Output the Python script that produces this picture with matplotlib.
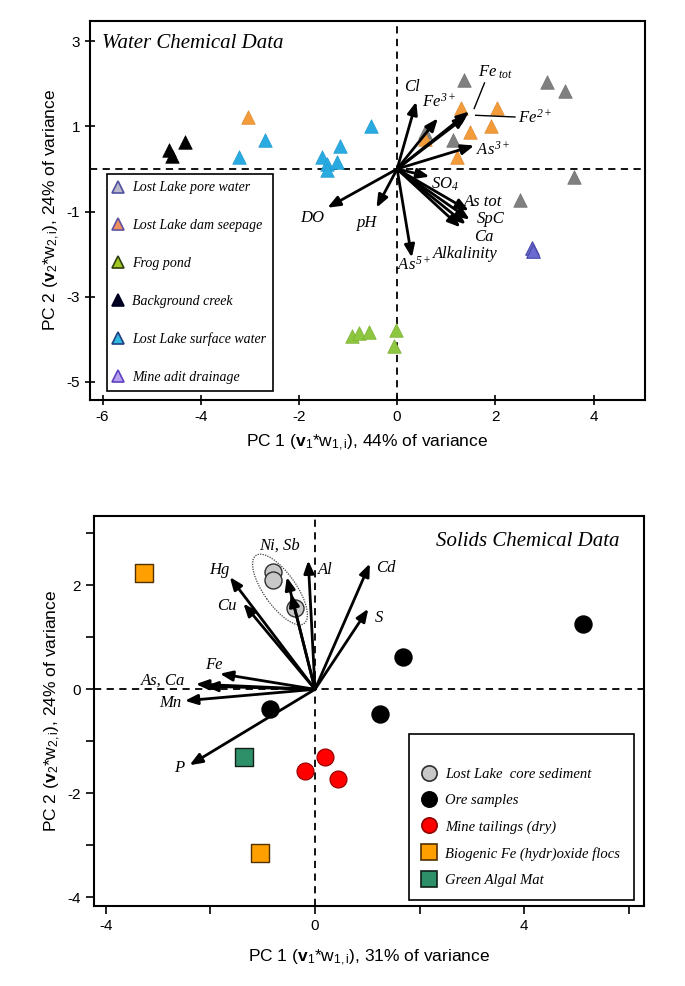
import matplotlib
matplotlib.use('Agg')
import matplotlib.pyplot as plt
from matplotlib.lines import Line2D
from matplotlib.patches import Ellipse

plt.rcParams['font.family'] = ['Liberation Sans', 'DejaVu Sans']
plt.rcParams['axes.unicode_minus'] = False
plt.rcParams['mathtext.fontset'] = 'custom'
plt.rcParams['mathtext.rm'] = 'Liberation Serif:italic'
plt.rcParams['mathtext.it'] = 'Liberation Serif:italic'
plt.rcParams['mathtext.sf'] = 'Liberation Sans'
plt.rcParams['mathtext.bf'] = 'Liberation Sans:bold'

# ---------------- Water chemical data (scores) ----------------
pore_x = [1.37, 3.05, 3.42, 0.56, 1.14, 3.60, 2.50]
pore_y = [2.08, 2.05, 1.84, 0.87, 0.67, -0.20, -0.73]
seep_x = [-3.03, 1.31, 2.03, 1.92, 1.48, 0.57, 1.22]
seep_y = [1.22, 1.44, 1.43, 1.02, 0.87, 0.70, 0.27]
frog_x = [-0.91, -0.77, -0.57, -0.02, -0.06]
frog_y = [-3.93, -3.86, -3.82, -3.79, -4.15]
creek_x = [-4.65, -4.58, -4.32]
creek_y = [0.44, 0.30, 0.63]
surf_x = [-3.23, -2.69, -0.53, -1.16, -1.52, -1.42, -1.42, -1.23]
surf_y = [0.28, 0.69, 1.01, 0.54, 0.29, 0.12, -0.02, 0.17]
adit_x = [2.75, 2.77]
adit_y = [-1.85, -1.92]

# Water loadings
water_vars = ["Cl", "Fe3+", "Fe tot", "Fe2+", "As3+", "SO4", "As tot", "SpC",
              "Ca", "Alkalinity", "As5+", "pH", "DO"]
water_pc1 = [0.39, 0.83, 1.47, 1.42, 1.57, 0.66, 1.46, 1.48, 1.40, 1.29, 0.30, -0.42, -1.42]
water_pc2 = [1.58, 1.19, 1.35, 1.25, 0.55, -0.18, -0.98, -1.19, -1.30, -1.37, -2.08, -0.91, -0.91]
water_labels = ["Cl", r"$Fe^{3+}$", r"$Fe_{\ tot}$", r"$Fe^{2+}$",
                r"$As^{3+}$", r"$SO_{4}$", "As tot", "SpC", "Ca",
                "Alkalinity", r"$As^{5+}$", "pH", "DO"]
water_label_pos = [(0.31, 1.92), (0.85, 1.58), (2.01, 2.26), (2.82, 1.20), (1.95, 0.44),
                   (0.98, -0.37), (1.75, -0.77), (1.90, -1.18), (1.77, -1.59), (1.38, -2.00),
                   (0.35, -2.25), (-0.60, -1.26), (-1.73, -1.14)]

# ---------------- Solids chemical data (scores) ----------------
core_x = [-0.80, -0.81, -0.38]
core_y = [2.26, 2.10, 1.57]
ore_x = [5.13, 1.69, 1.24, -0.86]
ore_y = [1.26, 0.62, -0.47, -0.37]
tail_x = [0.20, -0.19, 0.43]
tail_y = [-1.30, -1.57, -1.72]
floc_x = [-3.27, -1.06]
floc_y = [2.24, -3.14]
algal_x = [-1.35]
algal_y = [-1.30]

solid_vars = ["Hg", "Cu", "Ni", "Sb", "Al", "Cd", "S", "Fe", "As", "Ca", "Mn", "P"]
solid_pc1 = [-1.63, -1.37, -0.54, -0.46, -0.13, 1.05, 1.02, -1.82, -2.28, -2.10, -2.49, -2.40]
solid_pc2 = [2.16, 1.65, 2.16, 1.84, 2.48, 2.42, 1.55, 0.30, 0.10, 0.06, -0.22, -1.46]
solid_labels = ["Hg", "Cu", "Ni, Sb", "Al", "Cd", "S", "Fe", "As, Ca", "Mn", "P"]
solid_label_pos = [(-1.82, 2.30), (-1.69, 1.60), (-0.67, 2.77), (0.19, 2.30), (1.36, 2.34),
                   (1.23, 1.38), (-1.93, 0.46), (-2.90, 0.17), (-2.77, -0.26), (-2.59, -1.51)]

fig = plt.figure(figsize=(6.85, 9.86), dpi=100)
serif_it = dict(family='Liberation Serif', style='italic')


def style_axes(ax):
    for s in ax.spines.values():
        s.set_linewidth(1.5)
    ax.axhline(0, color='black', lw=1.3, ls=(0, (4, 3)), zorder=1)
    ax.axvline(0, color='black', lw=1.3, ls=(0, (4, 3)), zorder=1)
    ax.tick_params(labelsize=11, width=1.2, length=7, direction='inout')


def draw_arrows(ax, xs, ys):
    for x, y in zip(xs, ys):
        ax.annotate('', xy=(x, y), xytext=(0, 0),
                    arrowprops=dict(arrowstyle='-|>,head_length=0.75,head_width=0.3',
                                    lw=2.0, color='black', shrinkA=0, shrinkB=0),
                    zorder=4)


# ===================== top panel =====================
ax1 = fig.add_axes([0.131, 0.594, 0.810, 0.385])
style_axes(ax1)
ax1.set_xlim(-6.26, 5.04)
ax1.set_ylim(-5.43, 3.48)
ax1.set_xticks([-6, -4, -2, 0, 2, 4])
ax1.set_yticks([3, 1, -1, -3, -5])

ms = 95
ax1.scatter(pore_x, pore_y, marker='^', s=ms, c='#808080', edgecolors='#707070', lw=0.5, zorder=3)
ax1.scatter(seep_x, seep_y, marker='^', s=ms, c='#f39a3a', edgecolors='#e08a30', lw=0.5, zorder=3)
ax1.scatter(frog_x, frog_y, marker='^', s=ms, c='#8dc63f', edgecolors='#7ab030', lw=0.5, zorder=3)
ax1.scatter(creek_x, creek_y, marker='^', s=ms, c='#000000', edgecolors='#000000', lw=0.5, zorder=3)
ax1.scatter(surf_x, surf_y, marker='^', s=ms, c='#29abe2', edgecolors='#1e9ad0', lw=0.5, zorder=3)
ax1.scatter(adit_x, adit_y, marker='^', s=ms, c='#6a6ad0', edgecolors='#4848a8', lw=0.8, zorder=3)

draw_arrows(ax1, water_pc1, water_pc2)
for lab, (lx, ly) in zip(water_labels, water_label_pos):
    ax1.text(lx, ly, lab, fontsize=12, ha='center', va='center', zorder=5, **serif_it)
# leader lines for Fe tot and Fe2+
ax1.plot([1.78, 1.57], [2.02, 1.42], color='black', lw=1.0, zorder=5)
ax1.plot([1.60, 2.40], [1.26, 1.22], color='black', lw=1.0, zorder=5)

ax1.text(0.023, 0.94, "Water Chemical Data", transform=ax1.transAxes, fontsize=15,
         ha='left', va='center', **serif_it)

h1 = [
    Line2D([], [], ls='None', marker='^', ms=9, mfc='#b8b8c8', mec='#5050a0', mew=1.2, label='Lost Lake pore water'),
    Line2D([], [], ls='None', marker='^', ms=9, mfc='#f0905a', mec='#6050a0', mew=1.2, label='Lost Lake dam seepage'),
    Line2D([], [], ls='None', marker='^', ms=9, mfc='#a0c820', mec='#304010', mew=1.2, label='Frog pond'),
    Line2D([], [], ls='None', marker='^', ms=9, mfc='#000020', mec='#000020', mew=1.2, label='Background creek'),
    Line2D([], [], ls='None', marker='^', ms=9, mfc='#30b8e0', mec='#204080', mew=1.2, label='Lost Lake surface water'),
    Line2D([], [], ls='None', marker='^', ms=9, mfc='#b8a0f0', mec='#6040c0', mew=1.2, label='Mine adit drainage'),
]
leg1 = ax1.legend(handles=h1, loc='upper left', bbox_to_anchor=(0.031, 0.595), borderaxespad=0,
                  frameon=True, fancybox=False, edgecolor='black', framealpha=1,
                  prop=dict(family='Liberation Serif', style='italic', size=10),
                  labelspacing=1.78, handlelength=0.6, handletextpad=0.7, borderpad=0.5)
leg1.get_frame().set_linewidth(1.2)

ax1.set_xlabel(r"PC 1 ($\mathbf{v}_\mathsf{1}$*w$_\mathsf{1,i}$), 44% of variance", fontsize=12.5, labelpad=6)
ax1.set_ylabel(r"PC 2 ($\mathbf{v}_\mathsf{2}$*w$_\mathsf{2,i}$), 24% of variance", fontsize=12.5, labelpad=4)

# ===================== bottom panel =====================
ax2 = fig.add_axes([0.137, 0.081, 0.803, 0.3955])
style_axes(ax2)
ax2.tick_params(direction='out', length=6)
ax2.set_xlim(-4.23, 6.29)
ax2.set_ylim(-4.17, 3.33)
ax2.set_xticks([-4, -2, 0, 2, 4, 6])
ax2.set_xticklabels(['-4', '', '0', '', '4', ''])
ax2.set_yticks([3, 2, 1, 0, -1, -2, -3, -4])
ax2.set_yticklabels(['', '2', '', '0', '', '-2', '', '-4'])

ax2.add_patch(Ellipse((-0.67, 1.92), 1.6, 0.62, angle=-55, fill=False, ls=(0, (1, 1)),
                      lw=0.9, edgecolor='#404040', zorder=2))

cs = 150
ax2.scatter(core_x, core_y, marker='o', s=cs, c='#c8c8c8', edgecolors='#303030', lw=1.0, zorder=3)
ax2.scatter(ore_x, ore_y, marker='o', s=cs, c='#000000', edgecolors='#000000', lw=1.0, zorder=3)
ax2.scatter(tail_x, tail_y, marker='o', s=cs, c='#ff0000', edgecolors='#900000', lw=0.8, zorder=3)
ax2.scatter(floc_x, floc_y, marker='s', s=cs, c='#ffa000', edgecolors='#503000', lw=1.0, zorder=3)
ax2.scatter(algal_x, algal_y, marker='s', s=cs, c='#2e9068', edgecolors='#102018', lw=1.0, zorder=3)

draw_arrows(ax2, solid_pc1, solid_pc2)
for lab, (lx, ly) in zip(solid_labels, solid_label_pos):
    ax2.text(lx, ly, lab, fontsize=12, ha='center', va='center', zorder=5, **serif_it)

ax2.text(0.955, 0.935, "Solids Chemical Data", transform=ax2.transAxes, fontsize=15,
         ha='right', va='center', **serif_it)

h2 = [
    Line2D([], [], ls='None', marker='o', ms=11, mfc='#c8c8c8', mec='#303030', mew=1.2, label='Lost Lake  core sediment'),
    Line2D([], [], ls='None', marker='o', ms=11, mfc='#000000', mec='#000000', mew=1.2, label='Ore samples'),
    Line2D([], [], ls='None', marker='o', ms=11, mfc='#ff0000', mec='#900000', mew=1.2, label='Mine tailings (dry)'),
    Line2D([], [], ls='None', marker='s', ms=11, mfc='#ffa000', mec='#503000', mew=1.2, label='Biogenic Fe (hydr)oxide flocs'),
    Line2D([], [], ls='None', marker='s', ms=11, mfc='#2e9068', mec='#102018', mew=1.2, label='Green Algal Mat'),
]
leg2 = ax2.legend(handles=h2, loc='upper left', bbox_to_anchor=(0.573, 0.441), borderaxespad=0,
                  frameon=True, fancybox=False, edgecolor='black', framealpha=1,
                  prop=dict(family='Liberation Serif', style='italic', size=10.5),
                  title=' ', title_fontsize=5,
                  labelspacing=0.9, handlelength=1.0, handletextpad=0.6, borderpad=0.9)
leg2.get_frame().set_linewidth(1.2)

ax2.set_xlabel(r"PC 1 ($\mathbf{v}_\mathsf{1}$*w$_\mathsf{1,i}$), 31% of variance", fontsize=12.5, labelpad=10)
ax2.set_ylabel(r"PC 2 ($\mathbf{v}_\mathsf{2}$*w$_\mathsf{2,i}$), 24% of variance", fontsize=12.5, labelpad=4)

fig.savefig('out.png', dpi=100)
